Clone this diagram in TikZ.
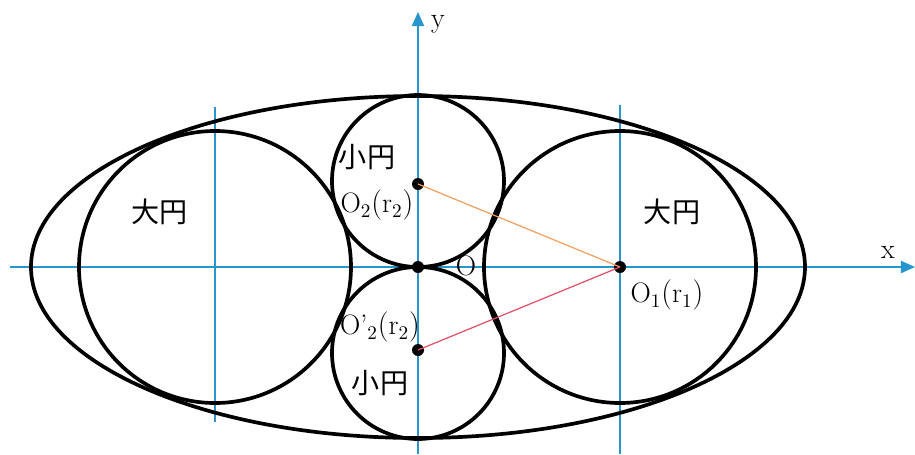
\documentclass[tikz,border=0pt]{standalone}
\usepackage{fontspec}
\usetikzlibrary{arrows.meta}
\newfontfamily\jpfont{Noto Sans CJK JP}
\definecolor{axisblue}{RGB}{40,150,205}
\definecolor{lineorange}{RGB}{240,160,95}
\definecolor{linered}{RGB}{225,80,105}
\begin{document}
\begin{tikzpicture}[x=0.02cm,y=0.02cm,
  axis/.style={axisblue,line width=0.6pt},
  curve/.style={line width=2.1pt},
  dot/.style={circle,fill=black,inner sep=0pt,minimum size=0.24cm},
  lbl/.style={font=\fontsize{16}{18}\selectfont,inner sep=1pt}]
\useasboundingbox (-418,-187) rectangle (497,267);
% axes
\coordinate (xl) at (-408,0);
\coordinate (xr) at (497,0);
\coordinate (yb) at (0,-187);
\coordinate (yt) at (0,255);
\draw[axis,-{Triangle[length=8pt,width=7pt]}] (xl) -- (xr);
\draw[axis,-{Triangle[length=8pt,width=7pt]}] (yb) -- (yt);
\node[lbl] (xlab) at (470,15) {x};
\node[lbl] (ylab) at (20,243) {y};
\draw[axis] (-203,160) -- (-203,-155);
\draw[axis] (202,162) -- (202,-187);
% ellipse and circles
\draw[curve] (0,0) ellipse (387 and 171);
\draw[curve] (-203,0) circle (136);
\draw[curve] (202,0) circle (136);
\draw[curve] (0,86) circle (86);
\draw[curve] (0,-86) circle (86);
% centres
\node[dot] (o) at (0,0) {};
\node[dot] (o1) at (202,0) {};
\node[dot] (o2) at (0,83) {};
\node[dot] (o2b) at (0,-83) {};
\draw[lineorange,line width=0.7pt] (o2.center) -- (o1.center);
\draw[linered,line width=0.7pt] (o2b.center) -- (o1.center);
% labels
\node[lbl] (small1) at (-51,110) {\jpfont 小円};
\node[lbl] (small2) at (-38,-116) {\jpfont 小円};
\node[lbl] (big1) at (-258,55) {\jpfont 大円};
\node[lbl] (big2) at (254,55) {\jpfont 大円};
\node[lbl] (o2lab) at (-41,62) {$\mathrm{O}_2(\mathrm{r}_2)$};
\node[lbl] (o2blab) at (-38,-60) {$\mathrm{O}\mbox{’}_2(\mathrm{r}_2)$};
\node[lbl] (olab) at (48,1) {O};
\node[lbl] (o1lab) at (249,-28) {$\mathrm{O}_1(\mathrm{r}_1)$};
\end{tikzpicture}
\end{document}
